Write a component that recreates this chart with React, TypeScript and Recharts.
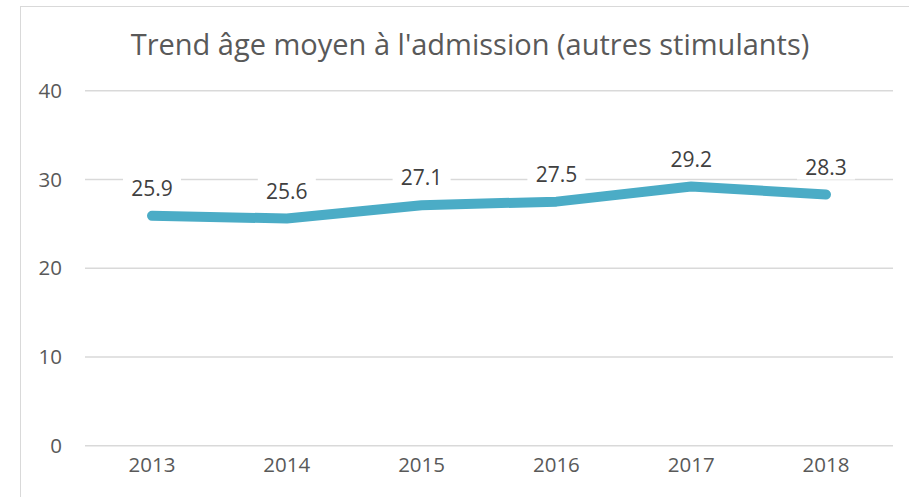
import React from "react";
import { LineChart, Line, XAxis, YAxis, CartesianGrid, LabelList } from "recharts";

const years = ["2013", "2014", "2015", "2016", "2017", "2018"];
const ageMoyen = [25.9, 25.6, 27.1, 27.5, 29.2, 28.3];
const yTicks = [0, 10, 20, 30, 40];

const data = years.map((y, i) => ({ year: y, age: ageMoyen[i] }));

const FONT = "'Open Sans', sans-serif";

function ValueLabel(props: any) {
  const { x, y, value } = props;
  const txt = Number(value).toFixed(1);
  const w = 58;
  const h = 26;
  const cy = y - 28;
  return (
    <g>
      <rect x={x - w / 2} y={cy - h / 2} width={w} height={h} fill="#fff" />
      <text x={x} y={cy} textAnchor="middle" dominantBaseline="central" fontSize={21} fill="#404040" fontFamily={FONT}>
        {txt}
      </text>
    </g>
  );
}

export default function App() {
  return (
    <div style={{ position: "absolute", left: 0, top: 0, width: 909, height: 497, background: "#fff" }}>
      <div
        style={{
          position: "absolute",
          left: 20,
          top: 6,
          width: 889,
          height: 491,
          borderLeft: "1.5px solid #d9d9d9",
          borderTop: "1.5px solid #d9d9d9",
        }}
      />
      <div
        style={{
          position: "absolute",
          left: 0,
          width: 940,
          top: 24,
          textAlign: "center",
          fontFamily: FONT,
          fontSize: 29,
          color: "#595959",
          lineHeight: "40px",
          whiteSpace: "nowrap",
        }}
      >
        Trend âge moyen à l'admission (autres stimulants)
      </div>
      <div style={{ position: "absolute", left: 0, top: 0 }}>
        <LineChart width={909} height={497} data={data} margin={{ top: 90.7, right: 16, bottom: 21.3, left: 25 }}>
          <CartesianGrid vertical={false} stroke="#d9d9d9" strokeWidth={1.5} />
          <XAxis
            dataKey="year"
            axisLine={false}
            tickLine={false}
            tickSize={0}
            tickMargin={12}
            height={30}
            padding={{ left: 67, right: 67 }}
            tick={{ fontSize: 20.5, fill: "#595959", fontFamily: FONT }}
          />
          <YAxis
            domain={[0, 40]}
            ticks={yTicks}
            axisLine={false}
            tickLine={false}
            tickSize={0}
            tickMargin={23}
            width={60}
            tick={{ fontSize: 20.5, fill: "#595959", fontFamily: FONT }}
          />
          <Line
            type="linear"
            dataKey="age"
            stroke="#4BACC6"
            strokeWidth={10}
            strokeLinecap="round"
            strokeLinejoin="round"
            dot={false}
            activeDot={false}
            isAnimationActive={false}
          >
            <LabelList dataKey="age" content={ValueLabel} />
          </Line>
        </LineChart>
      </div>
    </div>
  );
}
